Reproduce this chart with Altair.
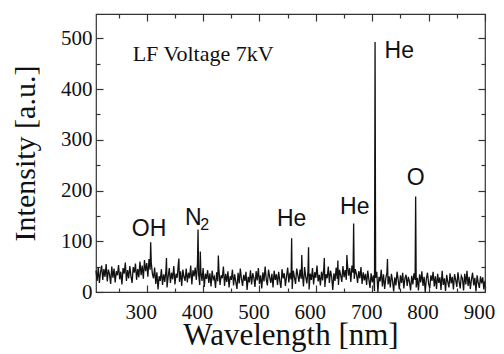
import altair as alt
import pandas as pd

# ---- spectrum: noisy baseline sampled every 2 nm from 210 to 900 nm ----
WL_START, WL_STOP, WL_STEP = 210, 900, 2
BASELINE = [
    42, 22, 48, 18, 39, 52, 24, 45, 30, 55, 21, 44, 35, 16, 50, 28, 46, 19, 41, 33,
    53, 25, 40, 15, 47, 36, 58, 22, 43, 27, 51, 31, 18, 49, 38, 56, 24, 45, 29, 60,
    33, 52, 26, 63, 41, 57, 30, 65, 44, 58, 36, 27, 48, 16, 39, 5, 31, 22, 45, 14,
    35, 20, 42, 9, 30, 47, 18, 38, 25, 51, 15, 36, 28, 55, 20, 41, 12, 44, 30, 22,
    46, 19, 38, 27, 52, 15, 43, 31, 48, 24, 56, 35, 14, 40, 22, 47, 10, 36, 26, 43,
    18, 37, 11, 42, 25, 30, 8, 39, 21, 45, 14, 33, 27, 50, 12, 36, 20, 41, 9, 31,
    24, 44, 13, 35, 20, 6, 38, 17, 46, 26, 12, 34, 22, 40, 4, 30, 19, 43, 15, 37,
    28, 10, 41, 23, 47, 16, 33, 7, 39, 21, 50, 25, 13, 44, 30, 18, 36, 9, 42, 24,
    35, 14, 40, 22, 8, 45, 27, 37, 12, 31, 48, 19, 38, 25, 6, 42, 29, 16, 46, 33,
    20, 44, 26, 38, 11, 49, 30, 17, 41, 5, 36, 24, 47, 15, 39, 28, 52, 21, 34, 13,
    40, 23, 46, 10, 35, 27, 50, 18, 42, 30, 4, 37, 22, 48, 26, 14, 44, 33, 20, 51,
    29, 43, 24, 55, 32, 47, 20, 52, 38, 26, 45, 35, 18, 41, 27, 49, 16, 39, 23, 36,
    14, 42, 25, 8, 37, 19, 33, 2, 28, 40, 0, 30, 21, 44, 11, 35, 6, 27, 38, 15,
    31, 9, 36, 22, 1, 29, 13, 40, 24, 5, 33, 18, 38, 7, 27, 34, 12, 30, 20, 3,
    32, 15, 37, 24, 9, 28, 3, 35, 19, 41, 12, 30, 0, 26, 38, 16, 8, 33, 22, 40,
    11, 31, 6, 36, 18, 29, 4, 42, 14, 27, 2, 34, 20, 9, 37, 17, 30, 5, 35, 24,
    10, 39, 21, 7, 32, 27, 3, 36, 15, 42, 12, 30, 6, 25, 38, 13, 28, 1, 33, 18,
    8, 31, 17, 29, 5, 22,
]

# ---- emission lines (nm, intensity) ----
PEAK_WL = [307, 335, 357, 391, 395, 427, 557, 575, 587, 615, 639, 655, 667, 705, 727, 777]
PEAK_I = [98, 67, 66, 123, 80, 72, 106, 73, 88, 67, 62, 73, 135, 493, 65, 188]

# ---- line labels ----
ANNOT_TEXT = ["OH", "N", "2", "He", "He", "He", "O"]
ANNOT_WL = [304, 382.5, 403, 557, 669, 748, 777]
ANNOT_I = [110, 133, 123, 131, 154, 461, 211]
ANNOT_SIZE = [23, 23, 16, 23, 23, 23, 23]

NOTE_TEXT = ["LF Voltage 7kV"]
NOTE_WL = [275]
NOTE_I = [456]

X_MAJOR = [300, 400, 500, 600, 700, 800, 900]
X_MINOR = [250, 350, 450, 550, 650, 750, 850]
Y_MAJOR = [0, 100, 200, 300, 400, 500]
Y_MINOR = [50, 150, 250, 350, 450]
X_DOMAIN = [210, 900]
Y_DOMAIN = [0, 548]

SERIF = "Liberation Serif"
SANS = "Liberation Sans"
INK = "#111111"
TICK = "#333333"

wl = list(range(WL_START, WL_STOP + 1, WL_STEP))
spec = pd.DataFrame({"wl": wl + PEAK_WL, "I": BASELINE + PEAK_I}).sort_values("wl", kind="mergesort")
annot = pd.DataFrame({"t": ANNOT_TEXT, "wl": ANNOT_WL, "I": ANNOT_I, "s": ANNOT_SIZE})
note = pd.DataFrame({"t": NOTE_TEXT, "wl": NOTE_WL, "I": NOTE_I})

xs = alt.Scale(domain=X_DOMAIN, nice=False, zero=False)
ys = alt.Scale(domain=Y_DOMAIN, nice=False, zero=False)


def tick_axis(orient, values, size):
    return alt.Axis(orient=orient, values=values, tickSize=size, offset=-size,
                    domain=False, labels=False, grid=False, title=None,
                    tickColor=TICK, tickWidth=1.2)


line = alt.Chart(spec).mark_line(color=INK, strokeWidth=1.3).encode(
    x=alt.X("wl:Q", scale=xs, axis=alt.Axis(
        orient="bottom", values=X_MAJOR, tickSize=7, offset=-7, domain=False, grid=False,
        tickColor=TICK, tickWidth=1.2,
        labelFont=SERIF, labelFontSize=21, labelColor=INK, labelPadding=9,
        labelFlush=False, labelOverlap=False, labelOffset=-6,
        title="Wavelength [nm]", titleFont=SERIF, titleFontSize=31, titleFontWeight="normal",
        titleColor=INK, titleX=194.5, titleY=59.5, titleAlign="center", titleBaseline="alphabetic")),
    y=alt.Y("I:Q", scale=ys, axis=alt.Axis(
        orient="left", values=Y_MAJOR, tickSize=7, offset=-7, domain=False, grid=False,
        tickColor=TICK, tickWidth=1.2,
        labelFont=SERIF, labelFontSize=21, labelColor=INK, labelPadding=4, labelOverlap=False,
        title="Intensity [a.u.]", titleFont=SERIF, titleFontSize=30, titleFontWeight="normal",
        titleColor=INK, titleX=-69, titleY=139, titleAngle=270, titleAlign="center",
        titleBaseline="alphabetic")),
)

pts = alt.Chart(spec).mark_point(opacity=0)
minor_bl = pts.encode(x=alt.X("wl:Q", scale=xs, axis=tick_axis("bottom", X_MINOR, 4)),
                      y=alt.Y("I:Q", scale=ys, axis=tick_axis("left", Y_MINOR, 4)))
major_tr = pts.encode(x=alt.X("wl:Q", scale=xs, axis=tick_axis("top", X_MAJOR, 7)),
                      y=alt.Y("I:Q", scale=ys, axis=tick_axis("right", Y_MAJOR, 7)))
minor_tr = pts.encode(x=alt.X("wl:Q", scale=xs, axis=tick_axis("top", X_MINOR, 4)),
                      y=alt.Y("I:Q", scale=ys, axis=tick_axis("right", Y_MINOR, 4)))

labels = alt.Chart(annot).mark_text(font=SANS, align="center", baseline="alphabetic",
                                    color=INK).encode(
    x=alt.X("wl:Q", scale=xs, axis=None),
    y=alt.Y("I:Q", scale=ys, axis=None),
    text="t:N",
    size=alt.Size("s:Q", scale=None),
)

note_txt = alt.Chart(note).mark_text(font=SERIF, fontSize=22, align="left",
                                     baseline="alphabetic", color=INK).encode(
    x=alt.X("wl:Q", scale=xs, axis=None),
    y=alt.Y("I:Q", scale=ys, axis=None),
    text="t:N",
)

chart = alt.layer(line, minor_bl, major_tr, minor_tr, labels, note_txt).resolve_axis(
    x="independent", y="independent"
).properties(
    width=389, height=278,
    autosize=alt.AutoSizeParams(type="none"),
    padding={"left": 88, "top": 6, "right": 11, "bottom": 60},
).configure_view(stroke=TICK, strokeWidth=1.2)

chart.save("out.html", embed_options={"renderer": "svg", "actions": False})
